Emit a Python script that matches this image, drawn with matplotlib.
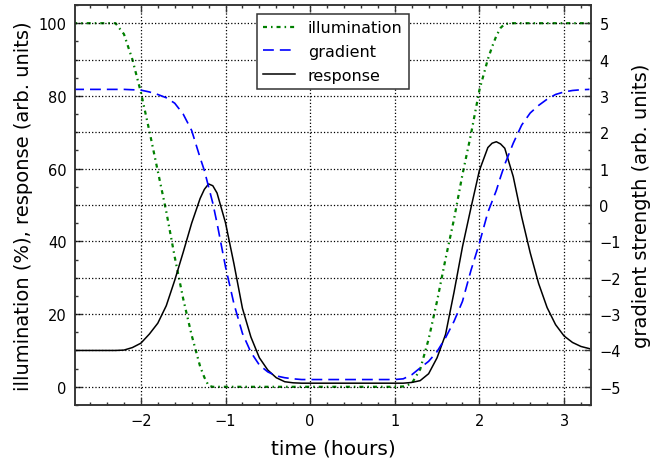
import matplotlib
matplotlib.use('Agg')
from matplotlib import pyplot as plt
from matplotlib.ticker import MultipleLocator

# time in hours, mostly every 0.1 h, a little finer at the two peaks
time = [-2.8, -2.7, -2.6, -2.5, -2.4, -2.3, -2.2, -2.1, -2.0, -1.9,
        -1.8, -1.7, -1.6, -1.5, -1.4, -1.3, -1.25, -1.2, -1.15, -1.1,
        -1.0, -0.9, -0.8, -0.7, -0.6, -0.5, -0.4, -0.3, -0.2, -0.1,
        0.0, 0.1, 0.2, 0.3, 0.4, 0.5, 0.6, 0.7, 0.8, 0.9,
        1.0, 1.1, 1.2, 1.3, 1.4, 1.5, 1.6, 1.7, 1.8, 1.9,
        2.0, 2.1, 2.15, 2.2, 2.25, 2.3, 2.4, 2.5, 2.6, 2.7,
        2.8, 2.9, 3.0, 3.1, 3.2, 3.3]

# illumination (%)
illumination = [100, 100, 100, 100, 100, 100, 97, 90, 81, 70.4,
                59.3, 48.2, 35.7, 24.2, 14.2, 5.6, 2.6, 0.3, 0, 0,
                0, 0, 0, 0, 0, 0, 0, 0, 0, 0,
                0, 0, 0, 0, 0, 0, 0, 0, 0, 0,
                0, 0.1, 0.9, 4.8, 13.1, 23.6, 35.2, 46.1, 58.4, 69.4,
                81.6, 90.1, 93.5, 96.5, 98.7, 99.8, 100, 100, 100, 100,
                100, 100, 100, 100, 100, 100]

# response (arb. units)
response = [10, 10, 10, 10, 10, 10, 10.1, 10.8, 12.0, 14.5,
            17.5, 22.3, 29.3, 37.0, 45.0, 51.8, 54.3, 55.8, 55.3, 53.3,
            45.1, 33.8, 21.6, 13.7, 8.0, 4.6, 2.5, 1.4, 1.1, 1.0,
            1.0, 1.0, 1.0, 1.0, 1.0, 1.0, 1.0, 1.0, 1.0, 1.0,
            1.0, 1.0, 1.2, 1.7, 3.6, 8.0, 14.4, 26.0, 38.5, 49.2,
            59.5, 65.8, 67.0, 67.4, 66.8, 65.6, 57.8, 46.7, 36.9, 28.4,
            21.8, 17.1, 14.0, 12.2, 11.1, 10.5]

# gradient strength (arb. units, right axis)
gradient = [3.18, 3.18, 3.18, 3.18, 3.18, 3.18, 3.18, 3.17, 3.16, 3.11,
            3.04, 2.95, 2.80, 2.50, 2.05, 1.30, 0.95, 0.50, 0.05, -0.50,
            -1.70, -2.72, -3.53, -4.05, -4.40, -4.59, -4.70, -4.75, -4.78, -4.80,
            -4.80, -4.80, -4.80, -4.80, -4.80, -4.80, -4.80, -4.80, -4.80, -4.80,
            -4.80, -4.78, -4.67, -4.48, -4.30, -4.03, -3.65, -3.20, -2.65, -1.80,
            -1.05, -0.20, 0.10, 0.40, 0.77, 1.12, 1.70, 2.20, 2.53, 2.74,
            2.91, 3.04, 3.11, 3.15, 3.17, 3.18]

frame = '#333333'

fig = plt.figure(figsize=(6.51, 4.64), dpi=100)
ax = fig.add_axes([0.115, 0.125, 0.793, 0.862])
ax2 = ax.twinx()

l1, = ax.plot(time, illumination, color='g', lw=1.6,
              linestyle=(0, (1.8, 1.8, 0.7, 1.8)), label='illumination')
l3, = ax.plot(time, response, color='k', lw=1.1, label='response')
l2, = ax2.plot(time, gradient, color='b', lw=1.2,
               linestyle=(0, (6.5, 3.6)), label='gradient')

ax.set_xlim(-2.78, 3.32)
ax.set_ylim(-5, 105)
ax2.set_ylim(-5.5, 5.5)

ax.xaxis.set_major_locator(MultipleLocator(1))
ax.xaxis.set_minor_locator(MultipleLocator(0.2))
ax.yaxis.set_major_locator(MultipleLocator(20))
ax.yaxis.set_minor_locator(MultipleLocator(5))
ax2.yaxis.set_major_locator(MultipleLocator(1))
ax2.yaxis.set_minor_locator(MultipleLocator(0.5))

ax.tick_params(axis='x', which='both', direction='in', top=True, colors=frame,
               labelcolor='k', labelsize=10.5, pad=6)
ax.tick_params(axis='y', which='both', direction='in', right=False, colors=frame,
               labelcolor='k', labelsize=10.5, pad=6)
ax2.tick_params(axis='y', which='both', direction='in', colors=frame,
                labelcolor='k', labelsize=10.5, pad=6)
for a in (ax, ax2):
    a.tick_params(which='major', length=5, width=1)
    a.tick_params(which='minor', length=2.5, width=1)
    for s in a.spines.values():
        s.set_color(frame)
        s.set_linewidth(1.1)

ax.grid(True, axis='x', color='k', linestyle=':', lw=0.9)
ax2.grid(True, axis='y', color='k', linestyle=':', lw=0.9)

ax.set_xlabel('time (hours)', fontsize=14.5, labelpad=7)
ax.set_ylabel('illumination (%), response (arb. units)', fontsize=14)
ax2.set_ylabel('gradient strength (arb. units)', fontsize=14, labelpad=8)

leg = ax2.legend([l1, l2, l3], ['illumination', 'gradient', 'response'],
                 loc='upper center', fontsize=11.5, fancybox=False,
                 edgecolor=frame, framealpha=1, borderaxespad=0.55,
                 handlelength=2.0, labelspacing=0.55)
leg.get_frame().set_linewidth(1.1)

fig.savefig('out.png', dpi=100)
